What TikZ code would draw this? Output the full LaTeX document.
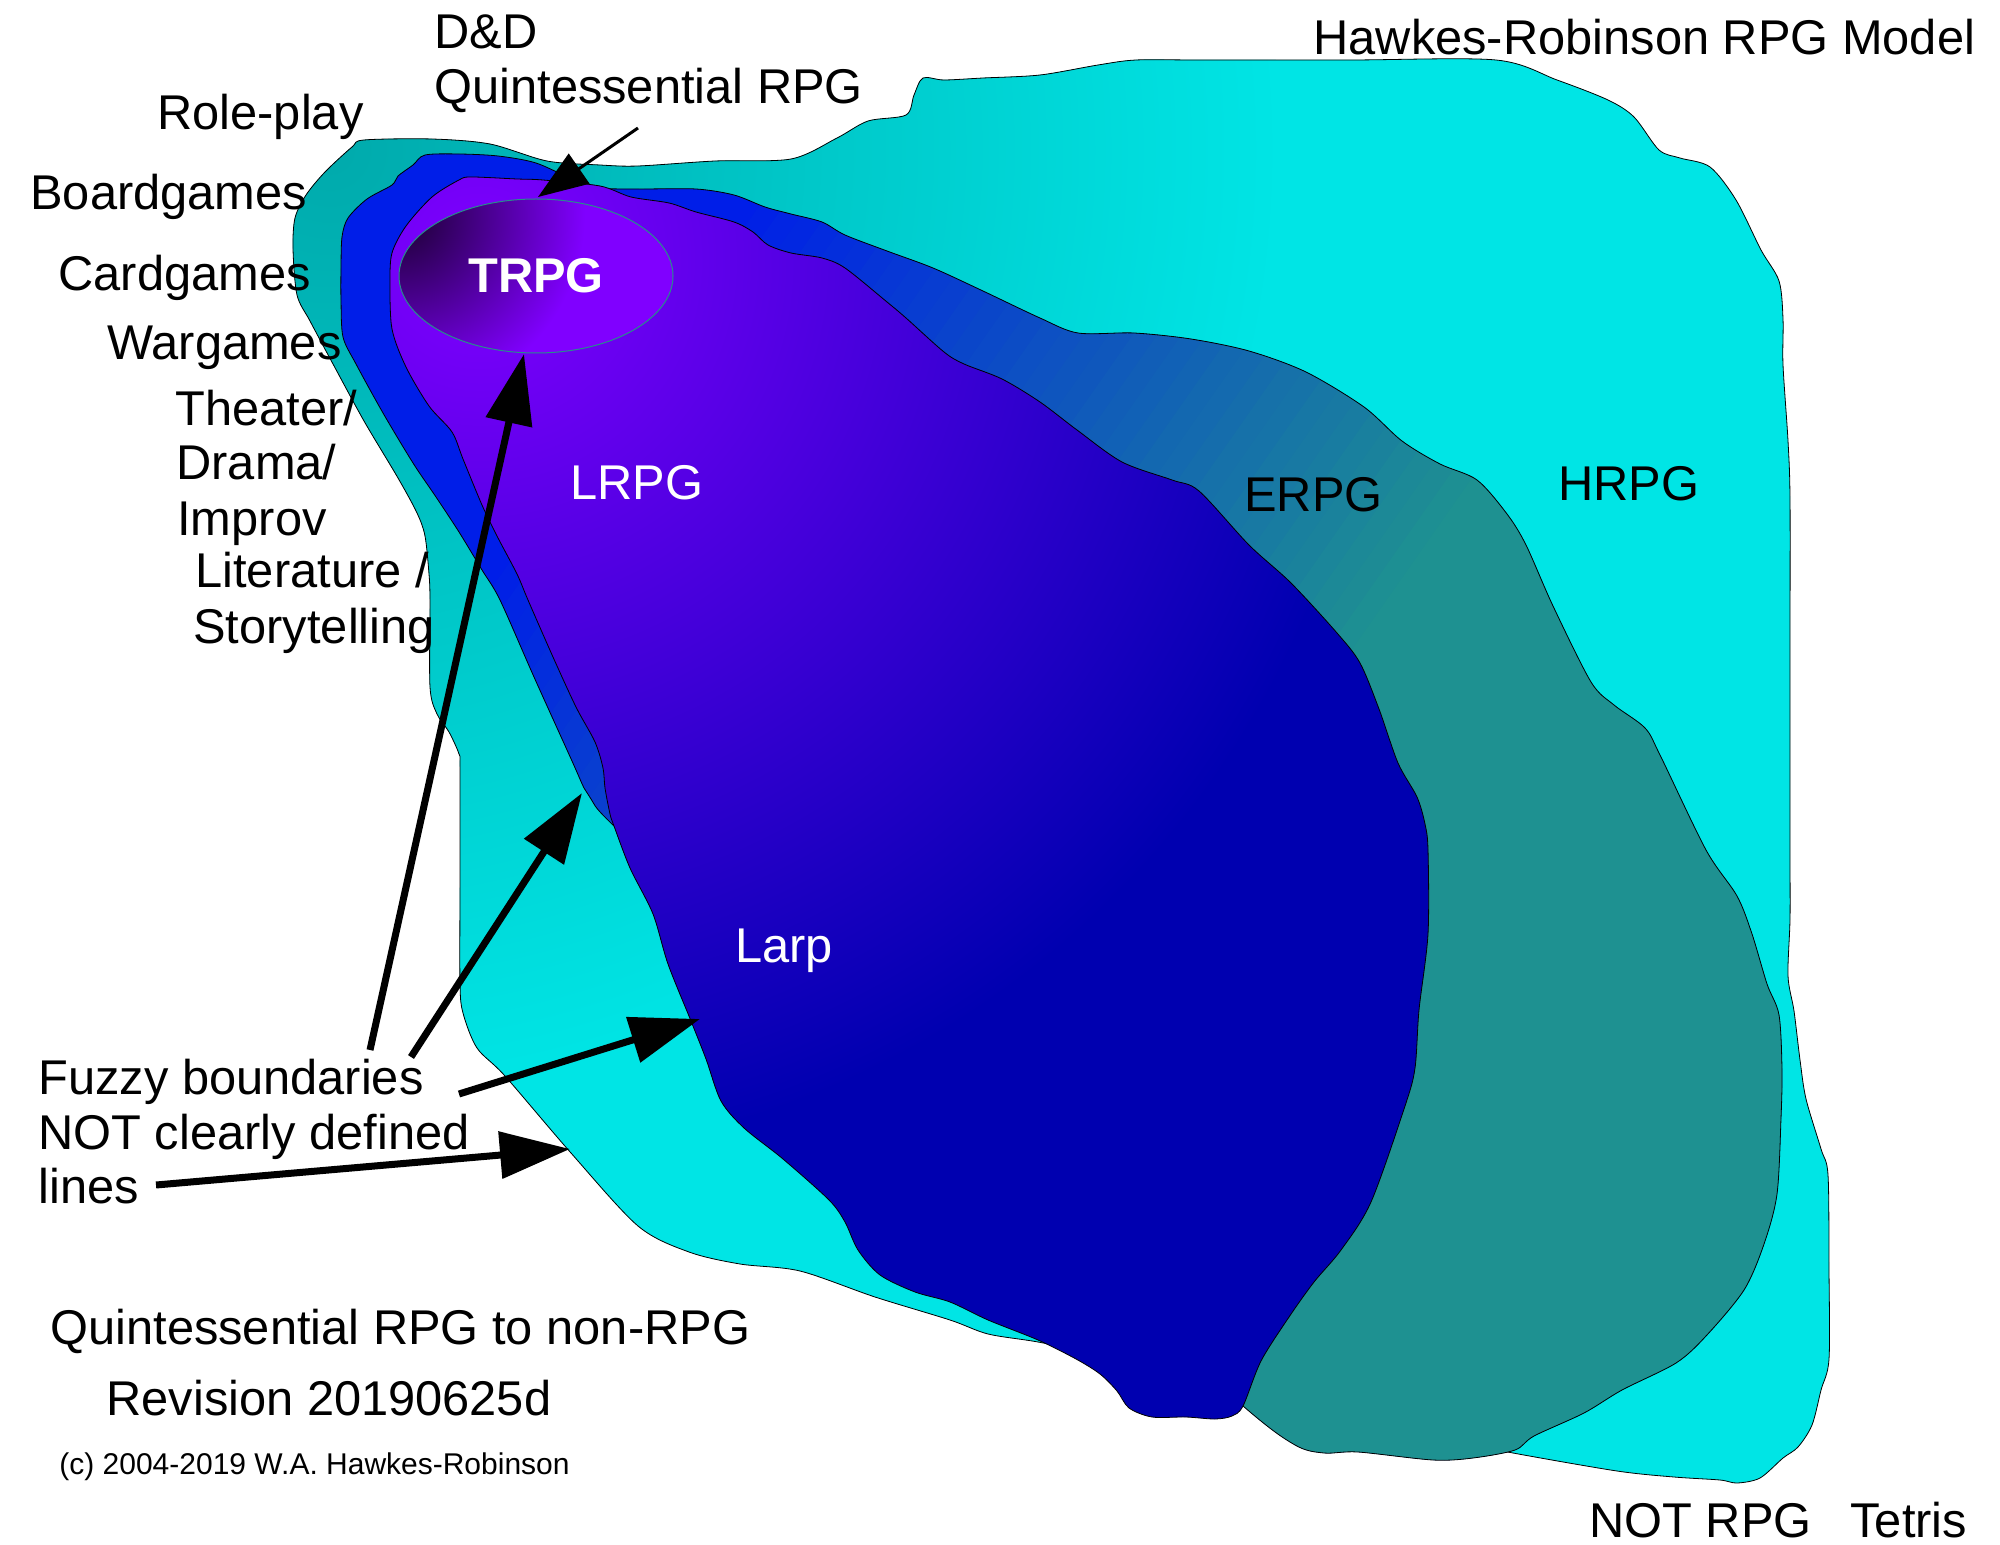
\documentclass[tikz,border=0pt]{standalone}
\usepackage{fontspec}
\setmainfont{Liberation Sans}
\usepackage{tikz}
\usetikzlibrary{arrows.meta}

\definecolor{hrpgCyan}{RGB}{0,229,229}
\definecolor{hrpgTeal}{RGB}{0,170,172}
\definecolor{erpgBlue}{RGB}{0,30,232}
\definecolor{erpgTeal}{RGB}{30,145,145}
\definecolor{lrpgViolet}{RGB}{128,0,255}
\definecolor{lrpgNavy}{RGB}{0,0,176}
\definecolor{trpgDark}{RGB}{26,0,46}
\definecolor{trpgRim}{RGB}{40,140,140}

\tikzset{
  region/.style={draw=black, line width=0.4pt},
  lbl/.style={anchor=base west, inner sep=0pt, font=\fontsize{24.4}{27}\selectfont},
  inlbl/.style={lbl, text=white},
  fuzzyarrow/.style={line width=3.5pt, -{Triangle[length=35pt, width=23pt]}},
  thinarrow/.style={line width=1.5pt, -{Triangle[length=25pt, width=18pt]}}
}

% outlines of the regions
\def\hrpgpath{plot[smooth cycle, tension=0.5] coordinates {
 (352,147) (364,140) (432,139) (490,144) (547,161) (600,165) (638,166) (715,161)
 (791,159) (837,138) (868,121) (906,115) (914,95) (923,78) (944,80) (983,78)
 (1040,75) (1098,65) (1136,60) (1200,60) (1350,60) (1496,60) (1557,80) (1608,100)
 (1634,117) (1659,150) (1680,158) (1710,167) (1736,200) (1761,250) (1779,281)
 (1783,319) (1783,365) (1788,441) (1790,499) (1790,650) (1790,850) (1790,919)
 (1788,976) (1794,1011) (1800,1060) (1806,1099) (1821,1149) (1828,1175) (1829,1270)
 (1829,1359) (1821,1390) (1812,1425) (1798,1447) (1783,1458) (1760,1478) (1737,1483)
 (1720,1480) (1674,1477) (1617,1471) (1513,1453) (1450,1440) (1300,1415) (1200,1385)
 (1100,1355) (1038,1342) (988,1334) (950,1320) (875,1297) (800,1271) (740,1264)
 (689,1252) (638,1226) (571,1153) (505,1076) (477,1048) (463,1013) (460,983)
 (460,880) (460,768) (459,754) (449,732) (437,714) (430,687) (430,600) (429,574)
 (425,536) (417,513) (398,478) (364,421) (333,364) (310,321) (297,295) (293,249)
 (295,218) (306,195) (325,172)}}
\def\erpgpath{plot[smooth cycle, tension=0.5] coordinates {
 (413,165) (425,155) (459,154) (498,156) (536,163) (574,180) (600,188) (638,189)
 (696,189) (734,195) (765,207) (791,214) (822,222) (845,235) (887,251) (933,268)
 (983,291) (1040,318) (1078,333) (1134,333) (1191,339) (1249,351) (1306,372)
 (1364,407) (1402,441) (1440,464) (1477,480) (1507,514) (1526,545) (1553,606)
 (1591,682) (1614,705) (1645,728) (1660,755) (1706,850) (1737,896) (1752,934)
 (1767,984) (1779,1015) (1782,1070) (1781,1118) (1777,1194) (1764,1244) (1744,1290)
 (1706,1336) (1676,1363) (1622,1390) (1584,1413) (1534,1436) (1515,1450) (1473,1458)
 (1433,1460) (1358,1452) (1324,1453) (1295,1445) (1243,1406) (1080,1260) (930,1115)
 (760,960) (614,826) (591,799) (584,788) (572,761) (534,677) (500,600) (482,570)
 (459,532) (436,497) (413,463) (383,413) (356,364) (343,337) (341,300) (341,268)
 (342,237) (348,218) (367,199) (392,185) (398,176)}}
\def\lrpgpath{plot[smooth cycle, tension=0.5] coordinates {
 (432,197) (459,180) (471,177) (517,179) (543,180) (600,186) (631,197) (669,203)
 (696,212) (734,222) (753,232) (768,245) (791,253) (822,258) (845,268) (887,302)
 (906,318) (944,352) (964,364) (1002,379) (1040,402) (1077,430) (1122,462)
 (1172,480) (1199,491) (1249,545) (1291,583) (1337,633) (1360,663) (1379,709)
 (1398,763) (1417,797) (1425,824) (1428,850) (1428,934) (1419,1010) (1415,1068)
 (1405,1106) (1371,1202) (1341,1250) (1314,1282) (1289,1317) (1261,1361) (1243,1406)
 (1232,1416) (1215,1419) (1186,1417) (1152,1417) (1129,1408) (1117,1391) (1100,1374)
 (1076,1359) (1038,1340) (988,1320) (950,1302) (915,1292) (880,1275) (858,1250)
 (845,1222) (829,1200) (783,1159) (744,1128) (721,1101) (706,1059) (691,1021)
 (668,964) (653,914) (630,868) (614,826) (610,814) (605,788) (603,768) (595,742)
 (576,707) (553,657) (528,600) (517,574) (497,536) (482,505) (463,459) (452,432)
 (429,406) (406,367) (392,329) (390,283) (392,253) (406,226)}}

\begin{document}
\begin{tikzpicture}[x=0.5pt,y=0.5pt,yscale=-1,xscale=1]
\useasboundingbox (0,0) rectangle (2000,1545);

%Shape: HRPG region
\fill[hrpgCyan] \hrpgpath;
\begin{scope}
\clip \hrpgpath;
\shade[inner color=hrpgTeal, outer color=hrpgCyan] (330,150) circle (950);
\end{scope}
\draw[region] \hrpgpath;

%Shape: ERPG region
\begin{scope}
\clip \erpgpath;
\fill[erpgBlue] (0,0) rectangle (2000,1545);
\begin{scope}[rotate=35]
\foreach \i in {0,...,38}{
  \pgfmathtruncatemacro\share{100-\i*100/38}
  \fill[erpgBlue!\share!erpgTeal] (720+\i*20,-1600) rectangle (741+\i*20,1600);
}
\fill[erpgTeal] (1500,-1600) rectangle (2700,1600);
\end{scope}
\end{scope}
\draw[region] \erpgpath;

%Shape: LRPG region
\fill[lrpgNavy] \lrpgpath;
\begin{scope}
\clip \lrpgpath;
\shade[inner color=lrpgViolet, outer color=lrpgNavy] (480,260) circle (900);
\end{scope}
\draw[region] \lrpgpath;

%Shape: TRPG ellipse
\begin{scope}
\clip (536,276) ellipse [x radius=137, y radius=77];
\fill[lrpgViolet] (399,199) rectangle (673,353);
\shade[inner color=trpgDark, outer color=lrpgViolet] (400,215) circle (185);
\end{scope}
\draw[trpgRim, line width=0.5pt] (536,276) ellipse [x radius=137, y radius=77];

% Text Node
\node[inlbl, anchor=center, font=\bfseries\fontsize{24.4}{27}\selectfont] (trpg) at (536,276) {TRPG};
\node[inlbl] (lrpg) at (570,499) {LRPG};
\node[inlbl] (larp) at (735,962) {Larp};
\node[lbl] (erpg) at (1244,511) {ERPG};
\node[lbl] (hrpg) at (1558,501) {HRPG};
% Text Node
\node[lbl] (dnd) at (434,49) {D\&D};
\node[lbl] (quintessential) at (434,104) {Quintessential RPG};
\node[lbl] (roleplay) at (157,130) {Role-play};
\node[lbl] (boardgames) at (30,210) {Boardgames};
\node[lbl] (cardgames) at (58,291) {Cardgames};
\node[lbl] (wargames) at (107,360) {Wargames};
\node[lbl] (theater) at (175,426) {Theater/};
\node[lbl] (drama) at (176,480) {Drama/};
\node[lbl] (improv) at (177,535) {Improv};
\node[lbl] (literature) at (195,587) {Literature /};
\node[lbl] (storytelling) at (193,643) {Storytelling};
% Text Node
\node[lbl] (title) at (1313,55) {Hawkes-Robinson RPG Model};
\node[lbl] (notrpg) at (1589,1537) {NOT RPG};
\node[lbl] (tetris) at (1850,1537) {Tetris};
% Text Node
\node[lbl] (fuzzyA) at (38,1094) {Fuzzy boundaries};
\node[lbl] (fuzzyB) at (38,1149) {NOT clearly defined};
\node[lbl] (fuzzyC) at (38,1203) {lines};
\node[lbl] (spectrum) at (50,1344) {Quintessential RPG to non-RPG};
\node[lbl] (revision) at (106,1415) {Revision 20190625d};
\node[lbl, font=\fontsize{15}{18}\selectfont] (copyright) at (59,1474) {(c) 2004-2019 W.A. Hawkes-Robinson};

% arrow ends
\coordinate (dndTail) at (638,128);
\coordinate (dndTip) at (538,197);
\coordinate (trpgTail) at (370,1050);
\coordinate (trpgTip) at (524,354);
\coordinate (stripTail) at (411,1057);
\coordinate (stripTip) at (582,793);
\coordinate (larpTail) at (459,1094);
\coordinate (larpTip) at (700,1019);
\coordinate (edgeTail) at (156,1185);
\coordinate (edgeTip) at (570,1149);

%Straight Lines
\draw[thinarrow] (dndTail) -- (dndTip);
\draw[fuzzyarrow] (trpgTail) -- (trpgTip);
\draw[fuzzyarrow] (stripTail) -- (stripTip);
\draw[fuzzyarrow] (larpTail) -- (larpTip);
\draw[fuzzyarrow] (edgeTail) -- (edgeTip);
\end{tikzpicture}
\end{document}
